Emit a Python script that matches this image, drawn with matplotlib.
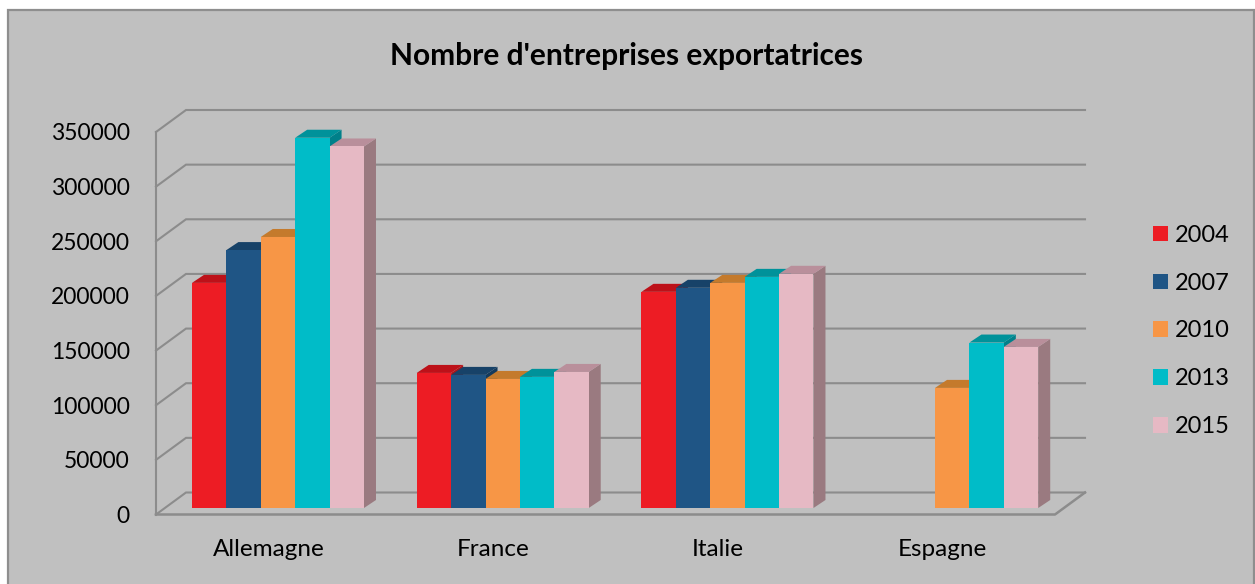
import numpy as np
import matplotlib.pyplot as plt
from matplotlib.patches import Rectangle

plt.rcParams['font.family'] = ['Lato', 'DejaVu Sans']

pays = ['Allemagne', 'France', 'Italie', 'Espagne']
annees = ['2004', '2007', '2010', '2013', '2015']
v2004 = [206000, 123600, 197800, np.nan]
v2007 = [236000, 121800, 201500, np.nan]
v2010 = [248000, 118100, 206000, 109900]
v2013 = [338800, 120000, 211500, 151400]
v2015 = [330800, 124500, 214300, 147400]
series = [v2004, v2007, v2010, v2013, v2015]

couleurs = ['#ed1c24', '#1f5585', '#f79646', '#00bcc8', '#e6b9c4']
dessus = ['#bd1119', '#174268', '#c47a2c', '#00929a', '#b98f9b']
cotes = ['#a8141a', '#143a5c', '#a9682a', '#00808a', '#9a7a80']

W, H = 1255, 584
GRIS = '#8c8c8c'

fig = plt.figure(figsize=(W / 100, H / 100), dpi=100, facecolor='white')
fig.add_artist(Rectangle((8 / W, -0.02), 1246 / W, 1 - 10 / H + 0.02,
                         transform=fig.transFigure, facecolor='#c0c0c0',
                         edgecolor='#8e8e8e', linewidth=1.6, zorder=-1))

# front plane of the 3D box: x 156-1055, y 514.5-132 (pixels from top)
ax = fig.add_axes([156 / W, 1 - 514.5 / H, 899 / W, 382.5 / H])
ax.patch.set_alpha(0)
ax.set_xlim(-0.5, 3.5)
ax.set_ylim(0, 350000)

px_x = 4 / 899
px_y = 350000 / 382.5

# depth of the back wall, front of the bars, depth of the bars
fond_x, fond_y = 30 * px_x, 22 * px_y
avant_x, avant_y = 9.6 * px_x, 6.5 * px_y
prof_x, prof_y = 12 * px_x, 8 * px_y

graduations = np.arange(0, 350001, 50000)
for g in graduations:
    ax.plot([-0.5, -0.5 + fond_x, 3.5 + fond_x], [g, g + fond_y, g + fond_y],
            color=GRIS, lw=1.5, clip_on=False, zorder=1, solid_joinstyle='miter')
ax.plot([-0.5, -0.5], [0, 350000], color=GRIS, lw=1.5, clip_on=False, zorder=1)
ax.plot([-0.5, 3.5, 3.5 + fond_x], [0, 0, fond_y], color=GRIS, lw=1.8, clip_on=False, zorder=1)

largeur = 34.4 * px_x
x = np.arange(len(pays))
handles = []
z = 2
for i, vals in enumerate(series):
    pos = x + avant_x + (i - 2) * largeur
    base = np.full(len(pays), avant_y)
    vals = np.array(vals)
    bars = ax.bar(pos, vals, largeur, bottom=base, color=couleurs[i], zorder=z + 2, clip_on=False)
    handles.append(bars[0])
    for xc, v in zip(pos, vals):
        if np.isnan(v):
            continue
        x0, x1 = xc - largeur / 2, xc + largeur / 2
        top = v + avant_y
        ax.fill([x0, x1, x1 + prof_x, x0 + prof_x], [top, top, top + prof_y, top + prof_y],
                color=dessus[i], lw=0, zorder=z + 1, clip_on=False)
        ax.fill([x1, x1 + prof_x, x1 + prof_x, x1], [avant_y, avant_y + prof_y, top + prof_y, top],
                color=cotes[i], lw=0, zorder=z, clip_on=False)
    z += 3

for s in ax.spines.values():
    s.set_visible(False)
ax.set_xticks(x, pays)
ax.set_yticks(graduations, [str(g) for g in graduations])
ax.tick_params(axis='x', length=0, labelsize=17.5, colors='black', pad=18)
ax.tick_params(axis='y', length=0, labelsize=16.5, colors='black', pad=19)
for lab in ax.get_yticklabels():
    lab.set_va('center_baseline')

fig.text(626 / W, 1 - 56 / H, "Nombre d'entreprises exportatrices", ha='center', va='center',
         fontsize=21.5, fontweight='bold', color='black')

fig.legend(handles, annees, loc='center left', bbox_to_anchor=(1153 / W, 1 - 331 / H),
           frameon=False, fontsize=17, handlelength=0.63, handleheight=0.63,
           handletextpad=0.3, labelspacing=1.14, borderpad=0, borderaxespad=0)

fig.savefig('out.png', dpi=100)
